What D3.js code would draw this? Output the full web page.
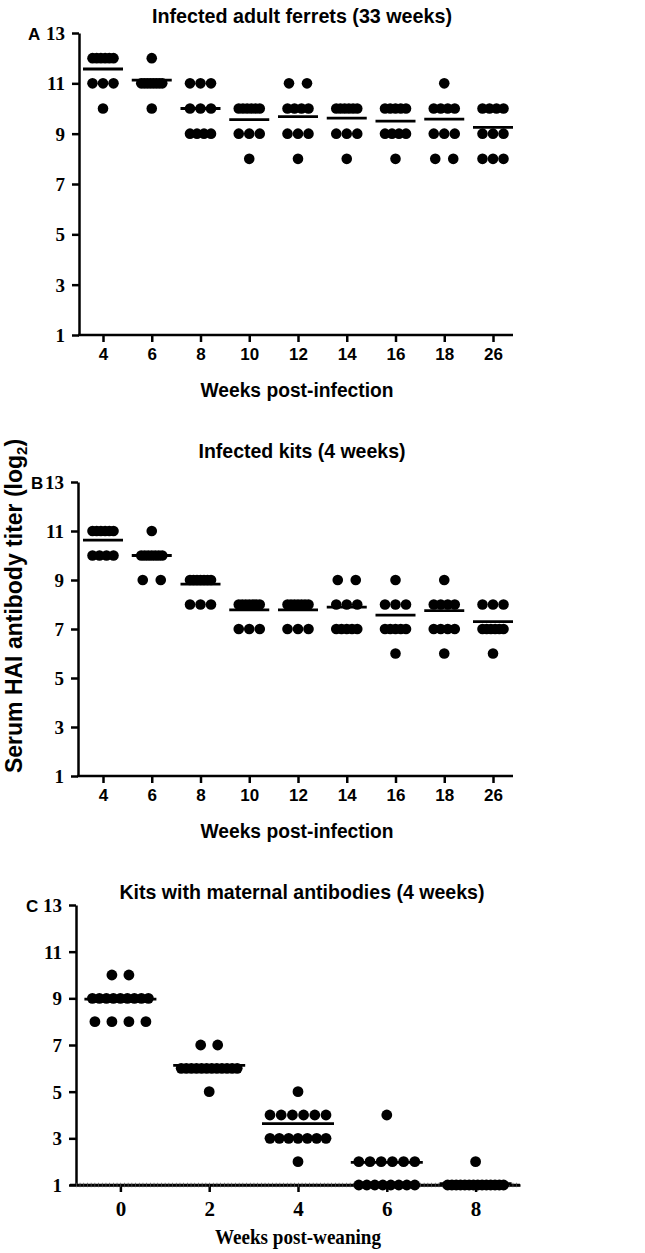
<!DOCTYPE html>
<html><head><meta charset="utf-8">
<script src="https://cdn.jsdelivr.net/npm/d3@7"></script>
<style>body{margin:0;background:#fff} svg{display:block}</style>
</head><body><svg id="c" width="645" height="1253"></svg>
<script>
// ---------- data ----------
const weeksInfection = ["4","6","8","10","12","14","16","18","26"];
const yTicks = [1,3,5,7,9,11,13];

const adultTiters = [
  [12,12,12,12,12,12,11,11,11,10],
  [12,11,11,11,11,11,11,11,11,10],
  [11,11,11,10,10,10,9,9,9,9],
  [10,10,10,10,10,10,9,9,9,8],
  [11,11,10,10,10,10,9,9,9,8],
  [10,10,10,10,10,10,9,9,9,8],
  [10,10,10,10,10,9,9,9,9,8],
  [11,10,10,10,10,9,9,9,8,8],
  [10,10,10,10,9,9,9,8,8,8]
];
const adultMeans = [11.57, 11.13, 10.0, 9.56, 9.68, 9.62, 9.5, 9.58, 9.25];

const kitTiters = [
  [11,11,11,11,11,11,10,10,10,10],
  [11,10,10,10,10,10,10,10,9,9],
  [9,9,9,9,9,9,9,8,8,8],
  [8,8,8,8,8,8,8,7,7,7],
  [8,8,8,8,8,8,8,7,7,7],
  [9,9,8,8,8,7,7,7,7,7],
  [9,8,8,8,7,7,7,7,7,6],
  [9,8,8,8,8,7,7,7,7,6],
  [8,8,8,7,7,7,7,7,7,6]
];
const kitMeans = [10.63, 10.0, 8.83, 7.78, 7.78, 7.89, 7.57, 7.75, 7.3];

const weaningWeeks = [0,2,4,6,8];
const maternalTiters = [
  [10,10,9,9,9,9,9,9,9,9,9,8,8,8,8],
  [7,7,6,6,6,6,6,6,6,6,6,6,6,6,5],
  [5,4,4,4,4,4,4,3,3,3,3,3,3,3,2],
  [4,2,2,2,2,2,2,1,1,1,1,1,1,1,1],
  [2,1,1,1,1,1,1,1,1,1,1,1,1,1,1]
];
const maternalMeans = [8.97, 6.13, 3.63, 1.97, 1.06];

// ---------- helpers ----------
const SANS = "'Liberation Sans', Arial, sans-serif";
const SERIF = "'Liberation Serif', 'Times New Roman', serif";
const svg = d3.select("#c");

function spread(values, gapCap, maxSpan) {
  const groups = d3.group(values, v => v);
  const pts = [];
  for (const [v, arr] of groups) {
    const n = arr.length;
    const gap = n > 1 ? Math.min(gapCap, maxSpan / (n - 1)) : 0;
    arr.forEach((_, i) => pts.push({v, dx: (i - (n - 1) / 2) * gap}));
  }
  return pts;
}

function styleAxis(g, sw) {
  g.selectAll("path, line").attr("stroke", "#000").attr("stroke-width", sw);
}

function panel(cfg) {
  const g = svg.append("g");
  const y = d3.scaleLinear().domain([1, 13]).range([cfg.yBottom, cfg.yTop]);
  const x = cfg.x;

  // y axis
  const ya = g.append("g").attr("transform", `translate(${cfg.axisX},0)`)
    .call(d3.axisLeft(y).tickValues(yTicks).tickSize(7).tickSizeOuter(0).tickFormat(d3.format("d")));
  styleAxis(ya, 2.5);
  ya.selectAll("text").attr("font-family", SERIF).attr("font-weight", "bold")
    .attr("font-size", 19).attr("fill", "#000").attr("x", -14).attr("dy", "0.34em");

  // x axis
  if (cfg.linearX) {
    const xa = g.append("g").attr("transform", `translate(0,${cfg.yBottom})`)
      .call(d3.axisBottom(x).tickValues(cfg.categories).tickSize(7).tickSizeOuter(0));
    styleAxis(xa, 2.5);
    xa.selectAll("text").attr("font-family", cfg.xTickFont).attr("font-weight", "bold")
      .attr("font-size", cfg.xTickSize).attr("fill", "#000").attr("y", 16).attr("dy", "0.71em");
    g.append("line").attr("x1", cfg.axisX - 6).attr("x2", cfg.axisRight)
      .attr("y1", cfg.yBottom).attr("y2", cfg.yBottom)
      .attr("stroke", "#000").attr("stroke-width", 2.5);
    g.append("line").attr("x1", cfg.axisX).attr("x2", cfg.axisRight)
      .attr("y1", cfg.yBottom).attr("y2", cfg.yBottom)
      .attr("stroke", "#555").attr("stroke-width", 4.5).attr("stroke-dasharray", "0.7 3");
  } else {
    const xa = g.append("g").attr("transform", `translate(0,${cfg.yBottom})`)
      .call(d3.axisBottom(x).tickSize(7).tickSizeOuter(0));
    xa.select(".domain").remove();
    styleAxis(xa, 2.5);
    xa.selectAll("text").attr("font-family", cfg.xTickFont).attr("font-weight", "bold")
      .attr("font-size", cfg.xTickSize).attr("fill", "#000").attr("y", 13).attr("dy", "0.71em");
    g.append("line").attr("x1", cfg.axisX - 1).attr("x2", cfg.axisRight)
      .attr("y1", cfg.yBottom).attr("y2", cfg.yBottom)
      .attr("stroke", "#000").attr("stroke-width", 2.5);
  }

  // dots
  cfg.titers.forEach((vals, i) => {
    const cx = x(cfg.categories[i]);
    const pts = spread(vals, cfg.gapCap, cfg.maxSpan);
    g.append("g").selectAll("circle").data(pts).join("circle")
      .attr("cx", d => cx + d.dx).attr("cy", d => y(d.v)).attr("r", cfg.r)
      .attr("fill", "#000");
  });

  // mean lines
  g.append("g").selectAll("line").data(cfg.means).join("line")
    .attr("x1", (d, i) => x(cfg.categories[i]) - cfg.lineHalf)
    .attr("x2", (d, i) => x(cfg.categories[i]) + cfg.lineHalf)
    .attr("y1", d => y(d)).attr("y2", d => y(d))
    .attr("stroke", "#000").attr("stroke-width", 2.8);

  // title
  g.append("text").attr("x", 302).attr("y", cfg.titleY).attr("text-anchor", "middle")
    .attr("font-family", SANS).attr("font-weight", "bold").attr("font-size", 21)
    .attr("textLength", cfg.titleLen).attr("lengthAdjust", "spacingAndGlyphs")
    .text(cfg.title);
  // panel letter
  g.append("text").attr("x", cfg.letterX).attr("y", cfg.yTop + 7)
    .attr("font-family", SANS).attr("font-weight", "bold").attr("font-size", 17)
    .text(cfg.letter);
  // x label
  g.append("text").attr("x", cfg.xLabelX).attr("y", cfg.xLabelY).attr("text-anchor", "middle")
    .attr("font-family", cfg.xLabelFont).attr("font-weight", "bold").attr("font-size", cfg.xLabelSize)
    .attr("textLength", cfg.xLabelLen).attr("lengthAdjust", "spacingAndGlyphs")
    .text(cfg.xLabel);
}

// Panel A
panel({
  letter: "A", letterX: 28, title: "Infected adult ferrets (33 weeks)", titleY: 23, titleLen: 300,
  x: d3.scalePoint().domain(weeksInfection).range([103, 493]),
  categories: weeksInfection, axisX: 79, axisRight: 513,
  yTop: 33, yBottom: 335, titers: adultTiters, means: adultMeans,
  r: 5.3, gapCap: 18, maxSpan: 21, lineHalf: 20,
  xTickFont: SANS, xTickSize: 17,
  xLabel: "Weeks post-infection", xLabelX: 297, xLabelY: 397, xLabelLen: 193, xLabelFont: SANS, xLabelSize: 20
});

// Panel B
panel({
  letter: "B", letterX: 31, title: "Infected kits (4 weeks)", titleY: 458, titleLen: 207,
  x: d3.scalePoint().domain(weeksInfection).range([103, 493]),
  categories: weeksInfection, axisX: 78, axisRight: 513,
  yTop: 482, yBottom: 776, titers: kitTiters, means: kitMeans,
  r: 5.3, gapCap: 18, maxSpan: 21, lineHalf: 20,
  xTickFont: SANS, xTickSize: 17,
  xLabel: "Weeks post-infection", xLabelX: 297, xLabelY: 838, xLabelLen: 193, xLabelFont: SANS, xLabelSize: 20
});

// Panel C
panel({
  letter: "C", letterX: 26, title: "Kits with maternal antibodies (4 weeks)", titleY: 899, titleLen: 365,
  x: d3.scaleLinear().domain([-1, 9]).range([76, 520]), linearX: true,
  categories: weaningWeeks, axisX: 76, axisRight: 520,
  yTop: 905, yBottom: 1185, titers: maternalTiters, means: maternalMeans,
  r: 5.4, gapCap: 17, maxSpan: 56, lineHalf: 36,
  xTickFont: SERIF, xTickSize: 21,
  xLabel: "Weeks post-weaning", xLabelX: 298, xLabelY: 1244, xLabelLen: 166, xLabelFont: SERIF, xLabelSize: 21
});

// shared y-axis title
const yt = svg.append("text").attr("transform", "translate(22,606) rotate(-90)")
  .attr("text-anchor", "middle").attr("font-family", SANS).attr("font-weight", "bold")
  .attr("font-size", 23);
yt.append("tspan").text("Serum HAI antibody titer (log");
yt.append("tspan").attr("font-size", 15).attr("dy", 5).text("2");
yt.append("tspan").attr("dy", -5).text(")");
</script></body></html>
